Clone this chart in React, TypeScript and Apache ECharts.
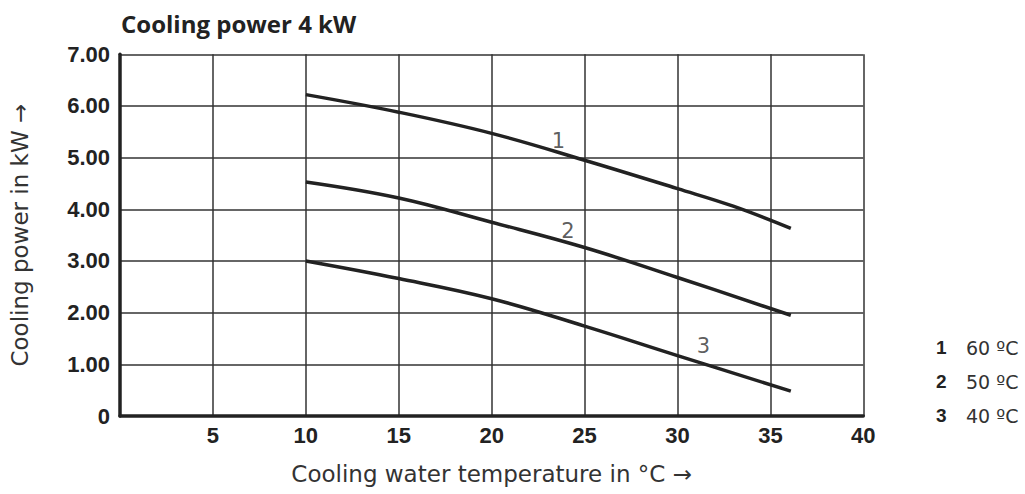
import React, { useEffect, useRef } from "react";
import * as echarts from "echarts";

const xTicks = [0, 5, 10, 15, 20, 25, 30, 35, 40];
const curve1: [number, number][] = [[10, 6.22], [15, 5.88], [20, 5.47], [25, 4.95], [30, 4.4], [33, 4.06], [36.1, 3.63]];
const curve2: [number, number][] = [[10, 4.53], [15, 4.22], [20, 3.75], [25, 3.26], [30, 2.68], [36.1, 1.95]];
const curve3: [number, number][] = [[10, 3.0], [15, 2.66], [20, 2.27], [25, 1.74], [30, 1.17], [36.1, 0.48]];
const curveLabels: [number, number, string][] = [[23.6, 5.32, "1"], [24.1, 3.58, "2"], [31.4, 1.36, "3"]];
const legendNums = ["1", "2", "3"];
const legendTexts = ["60 ºC", "50 ºC", "40 ºC"];

export default function App() {
  const ref = useRef<HTMLDivElement>(null);
  useEffect(() => {
    const chart = echarts.init(ref.current!, null, { renderer: "svg" });
    const lineStyle = { color: "#222", width: 3.5 };
    const legendGraphics: any[] = [];
    legendNums.forEach((n, i) => {
      legendGraphics.push({
        type: "text", left: 936, top: 338 + i * 34,
        style: { text: n, font: "bold 19px 'Liberation Sans'", fill: "#222", verticalAlign: "middle" },
      });
      legendGraphics.push({
        type: "text", left: 966, top: 338 + i * 34,
        style: { text: legendTexts[i], font: "19px 'DejaVu Sans'", fill: "#333", verticalAlign: "middle" },
      });
    });
    chart.setOption({
      animation: false,
      title: {
        text: "Cooling power 4 kW", left: 116, top: 6,
        textStyle: { fontFamily: "Open Sans", fontWeight: "bold", fontSize: 24, color: "#222" },
      },
      grid: { left: 116.5, right: 161.7, top: 54.3, bottom: 78 },
      xAxis: {
        type: "value", min: 0, max: 40, interval: 5,
        data: xTicks,
        name: "Cooling water temperature in °C →", nameLocation: "middle", nameGap: 46,
        nameTextStyle: { fontFamily: "DejaVu Sans", fontSize: 23, color: "#333" },
        axisLine: { show: true, lineStyle: { color: "#222", width: 3.5 } },
        axisTick: { show: false },
        axisLabel: {
          margin: 8, fontFamily: "Liberation Sans", fontWeight: "bold", fontSize: 22, color: "#222",
          formatter: (v: number) => (v === 0 ? "" : String(v)),
        },
        splitLine: { show: true, lineStyle: { color: "#333", width: 1.5 } },
      },
      yAxis: {
        type: "value", min: 0, max: 7, interval: 1,
        name: "Cooling power in kW →", nameLocation: "middle", nameGap: 89, nameRotate: 90,
        nameTextStyle: { fontFamily: "DejaVu Sans", fontSize: 23, color: "#333" },
        axisLine: { show: true, lineStyle: { color: "#222", width: 3.5 } },
        axisTick: { show: false },
        axisLabel: {
          margin: 10, fontFamily: "Liberation Sans", fontWeight: "bold", fontSize: 22, color: "#222",
          formatter: (v: number) => (v === 0 ? "0" : v.toFixed(2)),
        },
        splitLine: { show: true, lineStyle: { color: "#333", width: 1.5 } },
      },
      series: [
        { type: "line", data: curve1, smooth: 0.4, showSymbol: false, lineStyle, z: 5 },
        { type: "line", data: curve2, smooth: 0.4, showSymbol: false, lineStyle, z: 5 },
        { type: "line", data: curve3, smooth: 0.4, showSymbol: false, lineStyle, z: 5 },
        {
          type: "scatter", symbolSize: 0, z: 6,
          data: curveLabels.map(([x, y, t]) => ({ value: [x, y], name: t })),
          label: {
            show: true, position: "inside", formatter: (p: any) => p.name,
            fontFamily: "DejaVu Sans", fontSize: 21, color: "#333",
          },
        },
      ],
      graphic: legendGraphics,
    });
    return () => chart.dispose();
  }, []);
  return <div ref={ref} style={{ width: 1025, height: 494, position: "absolute", left: 0, top: 0 }} />;
}
